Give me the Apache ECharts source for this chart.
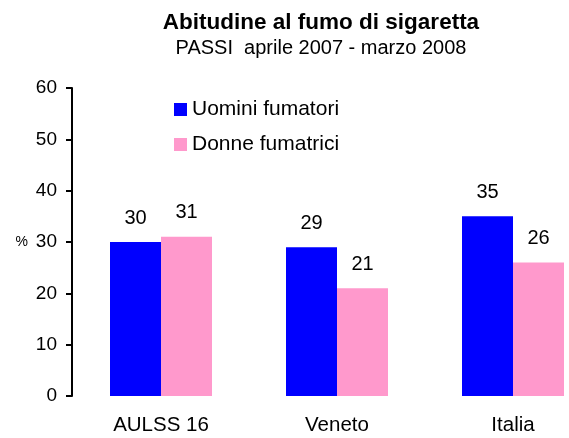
<!DOCTYPE html>
<html>
<head>
<meta charset="utf-8">
<script src="https://cdn.jsdelivr.net/npm/echarts@6/dist/echarts.min.js"></script>
<style>
  html, body { margin: 0; padding: 0; background: #fff; }
  #chart { width: 569px; height: 438px; }
</style>
</head>
<body>
<div id="chart"></div>
<script>
const categories = ["AULSS 16", "Veneto", "Italia"];
const uomini = [30, 29, 35];
const donne = [31, 21, 26];
const yTicks = { min: 0, max: 60, interval: 10 };

const myChart = echarts.init(document.getElementById("chart"));
const font = "Liberation Sans, Arial, sans-serif";

// etichette sopra le barre
const barLabel = {
  show: true,
  position: "top",
  distance: 14,
  color: "#000",
  fontFamily: font,
  fontSize: 20,
};

const option = {
  animation: false,
  title: {
    text: "Abitudine al fumo di sigaretta",
    subtext: "PASSI  aprile 2007 - marzo 2008",
    left: 316,
    textAlign: "center",
    top: 6,
    itemGap: 4,
    textStyle: { fontFamily: font, fontSize: 22.5, fontWeight: "bold", color: "#000" },
    subtextStyle: { fontFamily: font, fontSize: 20, color: "#000" },
  },
  legend: {
    orient: "vertical",
    left: 174,
    top: 99,
    padding: 0,
    itemWidth: 13,
    itemHeight: 13,
    itemGap: 14,
    icon: "rect",
    textStyle: { fontFamily: font, fontSize: 21, color: "#000" },
    data: ["Uomini fumatori", "Donne fumatrici"],
  },
  // categorie centrate sui tick (boundaryGap false), asse y spostato a sinistra con offset
  grid: {
    left: 161,
    top: 88,
    right: 56,
    height: 308,
  },
  xAxis: {
    type: "category",
    data: categories,
    boundaryGap: false,
    axisLine: { show: false },
    axisTick: { show: false },
    axisLabel: { margin: 19, color: "#000", fontFamily: font, fontSize: 20.5 },
  },
  yAxis: {
    type: "value",
    min: yTicks.min,
    max: yTicks.max,
    interval: yTicks.interval,
    offset: 89,
    name: "%",
    nameLocation: "middle",
    nameRotate: 0,
    nameGap: 44,
    nameTextStyle: { fontFamily: font, fontSize: 14, color: "#000", align: "right" },
    splitLine: { show: false },
    axisLine: { show: true, lineStyle: { color: "#000", width: 2 } },
    axisTick: { show: true, length: 6, lineStyle: { color: "#000", width: 2 } },
    axisLabel: { margin: 15, color: "#000", fontFamily: font, fontSize: 19 },
  },
  series: [
    {
      name: "Uomini fumatori",
      type: "bar",
      data: uomini,
      barWidth: 51,
      barGap: "0%",
      itemStyle: { color: "#0000FF" },
      label: barLabel,
    },
    {
      name: "Donne fumatrici",
      type: "bar",
      data: donne,
      barWidth: 51,
      barGap: "0%",
      itemStyle: { color: "#FF99CC" },
      label: barLabel,
    },
  ],
};

myChart.setOption(option);
</script>
</body>
</html>
